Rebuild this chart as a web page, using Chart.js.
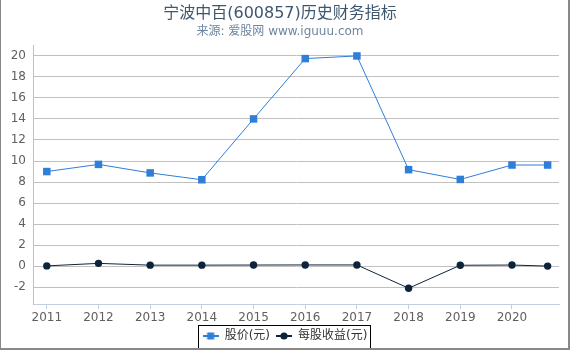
<!DOCTYPE html>
<html>
<head>
<meta charset="utf-8">
<script src="https://cdn.jsdelivr.net/npm/chart.js@4/dist/chart.umd.min.js"></script>
<style>
  html, body { margin: 0; padding: 0; background: #fff; }
  #wrap { width: 570px; height: 350px; }
</style>
</head>
<body>
<div id="wrap"><canvas id="myChart" width="570" height="350"></canvas></div>

<script>
// report periods (year position on the axis; the last one is a partial year)
const periods = [2011, 2012, 2013, 2014, 2015, 2016, 2017, 2018, 2019, 2020, 2020.69];
const yearTicks = [2011, 2012, 2013, 2014, 2015, 2016, 2017, 2018, 2019, 2020];
const price = [9.0, 9.68, 8.87, 8.22, 14.0, 19.73, 19.98, 9.18, 8.25, 9.62, 9.62];
const eps = [0.04, 0.28, 0.11, 0.11, 0.12, 0.13, 0.13, -2.08, 0.1, 0.12, 0.02];
const yTicks = [-2, 0, 2, 4, 6, 8, 10, 12, 14, 16, 18, 20];

const FONT = '"DejaVu Sans", "Noto Sans CJK SC", sans-serif';
const BLUE = '#2f7ed8';
const DARK = '#0d233a';

function legendIcon(color, shape) {
  const c = document.createElement('canvas');
  c.width = 16; c.height = 10;
  const g = c.getContext('2d');
  g.strokeStyle = color;
  g.lineWidth = 2;
  g.beginPath(); g.moveTo(0, 5); g.lineTo(16, 5); g.stroke();
  g.fillStyle = color;
  if (shape === 'rect') {
    g.fillRect(4.5, 1.5, 7, 7);
  } else {
    g.beginPath(); g.arc(8, 5, 3.6, 0, Math.PI * 2); g.fill();
  }
  return c;
}
const icons = [legendIcon(BLUE, 'rect'), legendIcon(DARK, 'circle')];

const frame = {
  id: 'frame',
  afterLayout(chart) {
    // nudge the legend a bit right and down
    const lg = chart.legend;
    lg.left += 5; lg.right += 5;
    lg.top += 2; lg.bottom += 2;
  },
  afterDraw(chart) {
    const ctx = chart.ctx;
    const lg = chart.legend;
    ctx.save();
    if (lg && lg.legendHitBoxes.length) {
      const hb = lg.legendHitBoxes;
      const l = Math.round(hb[0].left) - 4.5;
      const r = Math.round(hb[hb.length - 1].left + hb[hb.length - 1].width) + 3.5;
      const t = Math.round(hb[0].top) - 4.5;
      ctx.strokeStyle = '#000';
      ctx.lineWidth = 1;
      ctx.strokeRect(l, t, r - l, 349 - t);
    }
    ctx.fillStyle = '#888';
    ctx.fillRect(0, 0, 1, 350);
    ctx.fillRect(568, 0, 2, 350);
    ctx.fillRect(0, 348, 570, 2);
    ctx.restore();
  }
};

const config = {
  type: 'line',
  data: {
    datasets: [
      {
        label: '股价(元)',
        data: periods.map((p, i) => ({x: p, y: price[i]})),
        borderColor: BLUE,
        backgroundColor: BLUE,
        borderWidth: 1,
        pointStyle: 'rect',
        pointRadius: 5.3,
        pointBorderWidth: 0,
        tension: 0
      },
      {
        label: '每股收益(元)',
        data: periods.map((p, i) => ({x: p, y: eps[i]})),
        borderColor: DARK,
        backgroundColor: DARK,
        borderWidth: 1,
        pointStyle: 'circle',
        pointRadius: 3.7,
        pointBorderWidth: 0,
        tension: 0
      }
    ]
  },
  options: {
    responsive: false,
    animation: false,
    layout: { padding: { left: 1, right: 11, top: 0, bottom: 0 } },
    scales: {
      x: {
        type: 'linear',
        min: 2010.733,
        max: 2020.91,
        afterBuildTicks: (axis) => { axis.ticks = yearTicks.map(v => ({value: v})); },
        afterFit: (scale) => { scale.height = 18; },
        grid: { drawOnChartArea: false, drawTicks: true, tickLength: 5, color: '#C0D0E0' },
        border: { display: true, color: '#C0D0E0' },
        ticks: {
          padding: 2,
          maxRotation: 0,
          autoSkip: false,
          color: '#606060',
          font: { family: FONT, size: 12 },
          callback: (v) => String(v)
        }
      },
      y: {
        min: -3.58,
        max: 21.02,
        afterBuildTicks: (axis) => { axis.ticks = yTicks.map(v => ({value: v})); },
        afterFit: (scale) => { scale.width = 32; },
        grid: { color: '#C0C0C0', drawTicks: false },
        border: { display: true, color: '#C0C0C0' },
        ticks: {
          padding: 7,
          color: '#606060',
          font: { family: FONT, size: 12 }
        }
      }
    },
    plugins: {
      title: {
        display: true,
        text: '宁波中百(600857)历史财务指标',
        color: '#3E576F',
        font: { family: FONT, size: 16, weight: 'normal' },
        padding: { top: 4, bottom: 0 }
      },
      subtitle: {
        display: true,
        text: '来源: 爱股网 www.iguuu.com',
        color: '#6D869F',
        font: { family: FONT, size: 12 },
        padding: { top: 1.6, bottom: 5.8 }
      },
      legend: {
        position: 'bottom',
        labels: {
          usePointStyle: true,
          pointStyleWidth: 16,
          padding: 6,
          color: '#333',
          font: { family: FONT, size: 12 },
          generateLabels: (chart) => {
            const items = Chart.defaults.plugins.legend.labels.generateLabels(chart);
            items.forEach((it, i) => { it.pointStyle = icons[i]; });
            return items;
          }
        }
      },
      tooltip: { enabled: false }
    }
  },
  plugins: [frame]
};

var myChart = new Chart(document.getElementById('myChart'), config);
</script>
</body>
</html>
